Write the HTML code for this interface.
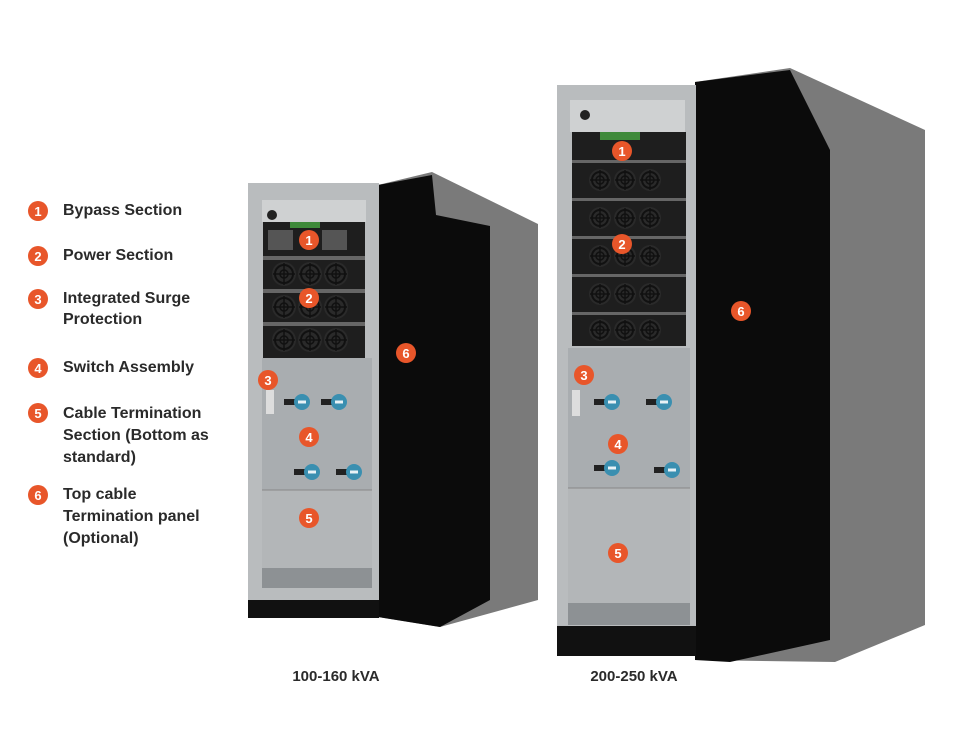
<!DOCTYPE html>
<html><head><meta charset="utf-8"><style>
body{margin:0;background:#fff;width:965px;height:729px;overflow:hidden;font-family:"Liberation Sans",sans-serif}
svg{position:absolute;left:0;top:0}
</style></head><body>
<svg width="965" height="729" viewBox="0 0 965 729" font-family="Liberation Sans, sans-serif">
<defs>
<g id="fan"><circle r="12" fill="#2a2a2a"/><circle r="9" fill="none" stroke="#111" stroke-width="2"/><circle r="4" fill="none" stroke="#111" stroke-width="1.5"/><path d="M-11 0H11M0-11V11" stroke="#111" stroke-width="1.5"/></g>
<g id="fanb"><circle r="11" fill="#2a2a2a"/><circle r="8" fill="none" stroke="#111" stroke-width="2"/><circle r="4" fill="none" stroke="#111" stroke-width="1.5"/><path d="M-10 0H10M0-10V10" stroke="#111" stroke-width="1.5"/></g>
<g id="sw"><rect x="-14" y="-3" width="14" height="6" fill="#222"/><circle cx="4" r="8" fill="#3a8fb0"/><rect x="0" y="-1.5" width="8" height="3" fill="#e8f2f6"/></g>
</defs>
<!-- legend -->
<g font-size="16" font-weight="bold" fill="#2a2a2a">
<g fill="#e8562a"><circle cx="38" cy="211" r="10"/><circle cx="38" cy="256" r="10"/><circle cx="38" cy="299" r="10"/><circle cx="38" cy="368" r="10"/><circle cx="38" cy="413" r="10"/><circle cx="38" cy="495" r="10"/></g>
<g fill="#fff" font-size="13" text-anchor="middle"><text x="38" y="216">1</text><text x="38" y="261">2</text><text x="38" y="304">3</text><text x="38" y="373">4</text><text x="38" y="418">5</text><text x="38" y="500">6</text></g>
<text x="63" y="215">Bypass Section</text>
<text x="63" y="260">Power Section</text>
<text x="63" y="303">Integrated Surge</text><text x="63" y="324">Protection</text>
<text x="63" y="372">Switch Assembly</text>
<text x="63" y="418">Cable Termination</text><text x="63" y="440">Section (Bottom as</text><text x="63" y="462">standard)</text>
<text x="63" y="499">Top cable</text><text x="63" y="521">Termination panel</text><text x="63" y="543">(Optional)</text>
<text x="336" y="681" text-anchor="middle" font-size="15">100-160 kVA</text>
<text x="634" y="681" text-anchor="middle" font-size="15">200-250 kVA</text>
</g>
<!-- small cabinet -->
<polygon points="378,185 432,172 538,224 538,600 440,627 378,617" fill="#7a7a7a"/>
<polygon points="378,185 432,175 436,215 490,226 490,600 440,627 378,617" fill="#0b0b0b"/>
<rect x="248" y="183" width="131" height="420" fill="#b9bcbe"/>
<rect x="248" y="600" width="131" height="18" fill="#111"/>
<rect x="262" y="200" width="104" height="22" fill="#cfd1d2"/>
<circle cx="272" cy="215" r="5" fill="#222"/>
<rect x="263" y="222" width="102" height="136" fill="#1e1e1e"/>
<rect x="290" y="222" width="30" height="6" fill="#3f8a3a"/>
<rect x="268" y="230" width="25" height="20" fill="#555"/><rect x="322" y="230" width="25" height="20" fill="#555"/>
<rect x="263" y="256" width="102" height="4" fill="#666"/><rect x="263" y="289" width="102" height="4" fill="#666"/><rect x="263" y="322" width="102" height="4" fill="#666"/>
<g transform="translate(284,274)"><use href="#fan"/><use href="#fan" x="26"/><use href="#fan" x="52"/></g>
<g transform="translate(284,307)"><use href="#fan"/><use href="#fan" x="26"/><use href="#fan" x="52"/></g>
<g transform="translate(284,340)"><use href="#fan"/><use href="#fan" x="26"/><use href="#fan" x="52"/></g>
<rect x="262" y="358" width="110" height="132" fill="#a9adb0"/>
<rect x="262" y="490" width="110" height="78" fill="#b3b6b8"/>
<line x1="262" y1="490" x2="372" y2="490" stroke="#888"/>
<rect x="262" y="568" width="110" height="20" fill="#8d9194"/>
<rect x="266" y="390" width="8" height="24" fill="#ddd"/>
<g transform="translate(298,402)"><use href="#sw"/></g><g transform="translate(335,402)"><use href="#sw"/></g>
<g transform="translate(308,472)"><use href="#sw"/></g><g transform="translate(350,472)"><use href="#sw"/></g>
<!-- large cabinet -->
<polygon points="695,82 790,68 925,130 925,625 835,662 695,660" fill="#7a7a7a"/>
<polygon points="695,82 790,70 830,150 830,640 730,662 695,660" fill="#0b0b0b"/>
<rect x="557" y="85" width="139" height="545" fill="#b9bcbe"/>
<rect x="557" y="626" width="139" height="30" fill="#111"/>
<rect x="570" y="100" width="115" height="32" fill="#cfd1d2"/>
<circle cx="585" cy="115" r="5" fill="#222"/>
<rect x="572" y="132" width="114" height="214" fill="#1e1e1e"/>
<rect x="600" y="132" width="40" height="8" fill="#3f8a3a"/>
<rect x="572" y="160" width="114" height="3" fill="#666"/><rect x="572" y="198" width="114" height="3" fill="#666"/><rect x="572" y="236" width="114" height="3" fill="#666"/><rect x="572" y="274" width="114" height="3" fill="#666"/><rect x="572" y="312" width="114" height="3" fill="#666"/>
<g transform="translate(600,180)"><use href="#fanb"/><use href="#fanb" x="25"/><use href="#fanb" x="50"/></g>
<g transform="translate(600,218)"><use href="#fanb"/><use href="#fanb" x="25"/><use href="#fanb" x="50"/></g>
<g transform="translate(600,256)"><use href="#fanb"/><use href="#fanb" x="25"/><use href="#fanb" x="50"/></g>
<g transform="translate(600,294)"><use href="#fanb"/><use href="#fanb" x="25"/><use href="#fanb" x="50"/></g>
<g transform="translate(600,330)"><use href="#fanb"/><use href="#fanb" x="25"/><use href="#fanb" x="50"/></g>
<rect x="568" y="348" width="122" height="140" fill="#a9adb0"/>
<rect x="568" y="488" width="122" height="115" fill="#b3b6b8"/>
<line x1="568" y1="488" x2="690" y2="488" stroke="#888"/>
<rect x="568" y="603" width="122" height="22" fill="#8d9194"/>
<rect x="572" y="390" width="8" height="26" fill="#ddd"/>
<g transform="translate(608,402)"><use href="#sw"/></g><g transform="translate(660,402)"><use href="#sw"/></g>
<g transform="translate(608,468)"><use href="#sw"/></g><g transform="translate(668,470)"><use href="#sw"/></g>
<!-- markers -->
<g fill="#e8562a"><circle cx="309" cy="240" r="10"/><circle cx="309" cy="298" r="10"/><circle cx="268" cy="380" r="10"/><circle cx="309" cy="437" r="10"/><circle cx="309" cy="518" r="10"/><circle cx="406" cy="353" r="10"/>
<circle cx="622" cy="151" r="10"/><circle cx="622" cy="244" r="10"/><circle cx="584" cy="375" r="10"/><circle cx="618" cy="444" r="10"/><circle cx="618" cy="553" r="10"/><circle cx="741" cy="311" r="10"/></g>
<g fill="#fff" font-size="13" font-weight="bold" text-anchor="middle">
<text x="309" y="245">1</text><text x="309" y="303">2</text><text x="268" y="385">3</text><text x="309" y="442">4</text><text x="309" y="523">5</text><text x="406" y="358">6</text>
<text x="622" y="156">1</text><text x="622" y="249">2</text><text x="584" y="380">3</text><text x="618" y="449">4</text><text x="618" y="558">5</text><text x="741" y="316">6</text></g>
</svg>
</body></html>
